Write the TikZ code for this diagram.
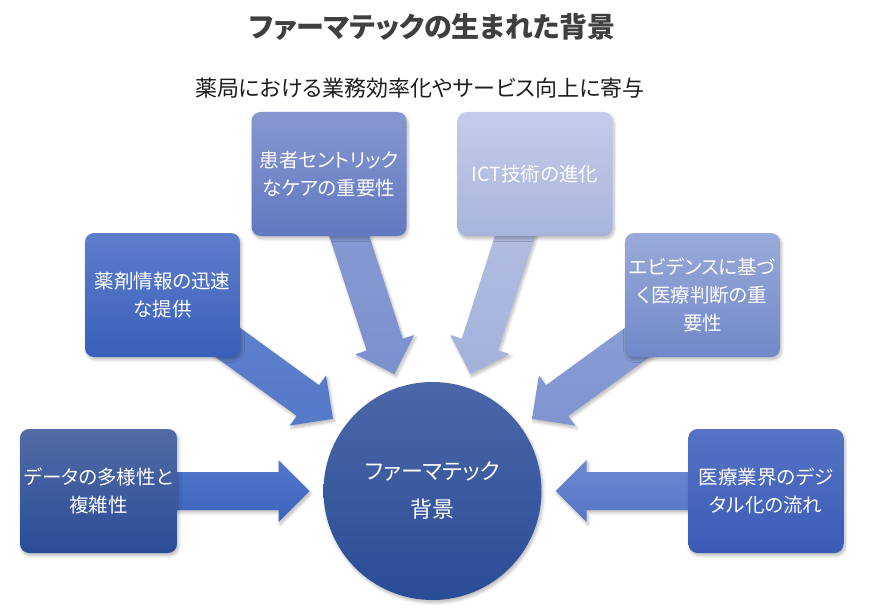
\documentclass[tikz,border=0pt]{standalone}
\usepackage{fontspec}
\newfontfamily\jp{Noto Sans CJK JP}[RawFeature=+palt]
\usetikzlibrary{calc,shadows.blur}
\pgfdeclarelayer{bg}
\pgfsetlayers{bg,main}
\definecolor{titlegray}{HTML}{3F3F3F}
\definecolor{subgray}{HTML}{1E1E1E}
\definecolor{boxAt}{HTML}{8797CF}\definecolor{boxAb}{HTML}{6179C2}
\definecolor{boxBt}{HTML}{C4CCE9}\definecolor{boxBb}{HTML}{A7B4DC}
\definecolor{boxCt}{HTML}{5E7ECC}\definecolor{boxCb}{HTML}{3A5FBA}
\definecolor{boxDt}{HTML}{526BA6}\definecolor{boxDb}{HTML}{2A4C97}
\definecolor{boxEt}{HTML}{9AAAD9}\definecolor{boxEb}{HTML}{7088C9}
\definecolor{boxFt}{HTML}{5673C4}\definecolor{boxFb}{HTML}{3A5CB7}
\definecolor{circt}{HTML}{4C67A8}\definecolor{circb}{HTML}{2A4C97}
\definecolor{arDt}{HTML}{5279CC}\definecolor{arDb}{HTML}{3C63BC}
\definecolor{arCt}{HTML}{6384CF}\definecolor{arCb}{HTML}{5479C8}
\definecolor{arAt}{HTML}{8A9CD4}\definecolor{arAb}{HTML}{7B90CE}
\definecolor{arBt}{HTML}{B6C1E4}\definecolor{arBb}{HTML}{A3B1DB}
\definecolor{arEt}{HTML}{8FA1D6}\definecolor{arEb}{HTML}{7F93CF}
\definecolor{arFt}{HTML}{6A89D1}\definecolor{arFb}{HTML}{5676C6}
\tikzset{
  softshadow/.style={blur shadow={shadow xshift=1.5pt, shadow yshift=-2.5pt, shadow blur steps=6, shadow blur radius=3pt, shadow opacity=28}},
  box/.style={rounded corners=9pt, minimum width=155pt, minimum height=124pt, inner sep=4pt,
    align=center, text=white, font=\jp\fontsize{19.5}{28}\selectfont, softshadow},
}
\newcommand\blockarr[4]{%
  \coordinate (hb) at ($(#2)!31pt!(#1)$);
  \shade[top color=#3, bottom color=#4, softshadow]
    ($(#1)!19pt!90:(#2)$) -- ($(hb)!19pt!90:(#2)$) -- ($(hb)!31pt!90:(#2)$) -- (#2)
    -- ($(hb)!31pt!-90:(#2)$) -- ($(hb)!19pt!-90:(#2)$) -- ($(#1)!19pt!-90:(#2)$) -- cycle;
}
\begin{document}
\begin{tikzpicture}[x=1pt,y=-1pt]
\useasboundingbox (0,0) rectangle (871,610);
\node[font=\jp\bfseries\fontsize{28}{30}\selectfont, text=titlegray] (title) at (432.5,27) {ファーマテックの生まれた背景};
\node[font=\jp\fontsize{22}{26}\selectfont, text=subgray] (sub) at (420,88) {薬局における業務効率化やサービス向上に寄与};

\node[box, top color=boxAt, bottom color=boxAb] (b1) at (329,174) {患者セントリック\\なケアの重要性};
\node[box, top color=boxBt, bottom color=boxBb] (b2) at (535,174) {ICT技術の進化};
\node[box, top color=boxCt, bottom color=boxCb] (b3) at (162.5,295) {薬剤情報の迅速\\な提供};
\node[box, top color=boxEt, bottom color=boxEb] (b5) at (702.5,295) {エビデンスに基づ\\く医療判断の重\\要性};
\node[box, top color=boxDt, bottom color=boxDb] (b4) at (98.5,491) {データの多様性と\\複雑性};
\node[box, top color=boxFt, bottom color=boxFb] (b6) at (766,491) {医療業界のデジ\\タル化の流れ};

\node[circle, minimum size=218pt, inner sep=0pt, top color=circt, bottom color=circb, text=white,
  align=center, font=\jp\fontsize{22}{38}\selectfont, softshadow] (c) at (432.5,491) {ファーマテック\\背景};

\coordinate (t1) at ($(c.center)!123pt!(b1.center)$);
\coordinate (t2) at ($(c.center)!123pt!(b2.center)$);
\coordinate (t3) at ($(c.center)!123pt!(b3.center)$);
\coordinate (t4) at ($(c.center)!123pt!(b4.center)$);
\coordinate (t5) at ($(c.center)!123pt!(b5.center)$);
\coordinate (t6) at ($(c.center)!123pt!(b6.center)$);

\begin{pgfonlayer}{bg}
\blockarr{b1.center}{t1}{arAt}{arAb}
\blockarr{b2.center}{t2}{arBt}{arBb}
\blockarr{b3.center}{t3}{arCt}{arCb}
\blockarr{b4.center}{t4}{arDt}{arDb}
\blockarr{b5.center}{t5}{arEt}{arEb}
\blockarr{b6.center}{t6}{arFt}{arFb}
\end{pgfonlayer}
\end{tikzpicture}
\end{document}
